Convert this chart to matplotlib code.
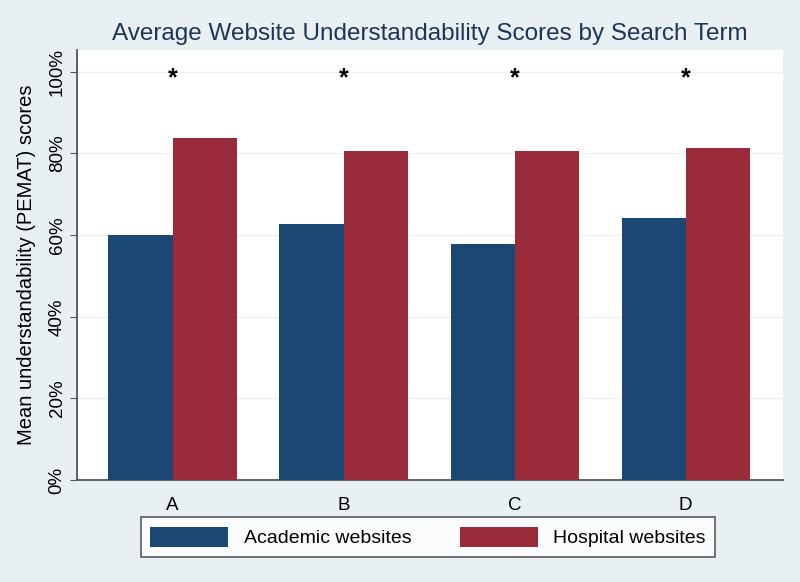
import matplotlib
matplotlib.use("Agg")
import matplotlib.pyplot as plt
import numpy as np
from matplotlib.ticker import FuncFormatter

plt.rcParams['font.family'] = ['Liberation Sans', 'DejaVu Sans']

terms = ['A', 'B', 'C', 'D']
academic = [60.0, 62.8, 57.9, 64.1]
hospital = [83.8, 80.6, 80.6, 81.4]
star_level = 98.5
yticks = [0, 20, 40, 60, 80, 100]

navy = '#1b4872'
maroon = '#9a2b3a'
bg = '#e9f0f3'

fig = plt.figure(figsize=(8, 5.82), dpi=100, facecolor=bg)
ax = fig.add_axes([0.096, 0.175, 0.883, 0.739])
ax.set_facecolor('white')

x = np.arange(len(terms))
w = 0.375
ax.bar(x - w/2, academic, w, color=navy, label='Academic websites', zorder=3)
ax.bar(x + w/2, hospital, w, color=maroon, label='Hospital websites', zorder=3)

for xi in x:
    ax.text(xi, star_level, '*', ha='center', va='center', fontsize=18,
            fontweight='bold', color='black', zorder=4)

ax.set_xlim(-0.56, 3.57)
ax.set_ylim(0, 105.3)
ax.set_yticks(yticks)
ax.yaxis.set_major_formatter(FuncFormatter(lambda v, p: '%d%%' % v))
ax.set_xticks(x)
ax.set_xticklabels(terms, fontsize=13.5)
for t in ax.get_yticklabels():
    t.set_rotation(90)
    t.set_va('center')
    t.set_fontsize(13.5)
ax.grid(axis='y', color='#eef1f4', linewidth=1, zorder=0)
ax.tick_params(axis='y', length=5, color='#555555', pad=3)
ax.tick_params(axis='x', length=0, pad=12)

for s in ['top', 'right']:
    ax.spines[s].set_visible(False)
ax.spines['left'].set_color('#555555')
ax.spines['bottom'].set_color('#555555')
ax.spines['left'].set_linewidth(1.3)
ax.spines['bottom'].set_linewidth(1.3)

ax.set_ylabel('Mean understandability (PEMAT) scores', fontsize=14.5, labelpad=9)
ax.set_title('Average Website Understandability Scores by Search Term',
             fontsize=17.5, color='#1e3556', pad=7)

leg = fig.legend(loc='center', bbox_to_anchor=(0.535, 0.077), ncol=2,
                 fontsize=14, frameon=True, fancybox=False,
                 handlelength=4.0, handleheight=1.2, columnspacing=2.5,
                 borderpad=0.5)
leg.get_frame().set_edgecolor('#333333')
leg.get_frame().set_linewidth(1.2)
leg.get_frame().set_facecolor('white')

fig.savefig('out.png', dpi=100, facecolor=bg)
